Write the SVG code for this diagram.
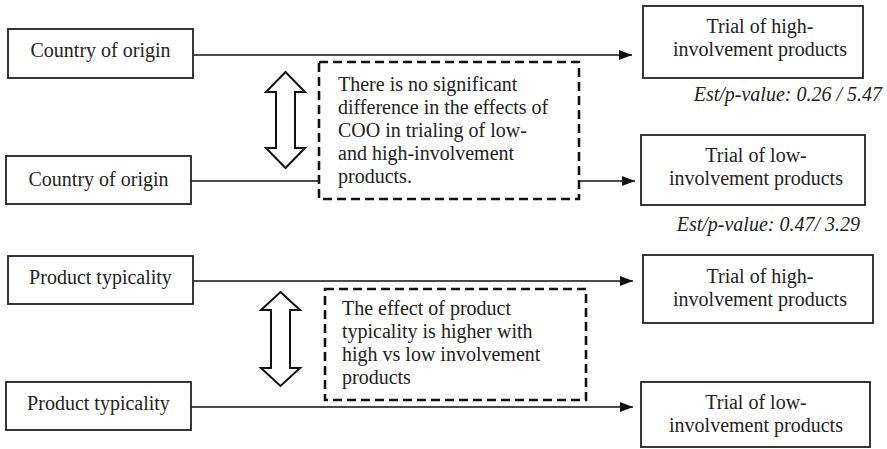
<svg xmlns="http://www.w3.org/2000/svg" width="887" height="449" viewBox="0 0 887 449">
<defs>
<marker id="ah" markerUnits="userSpaceOnUse" markerWidth="14" markerHeight="12" refX="13" refY="6" orient="auto">
<path d="M0,1 L13,6 L0,11 Z" fill="#111"/>
</marker>
<style>
.box{fill:#fff;stroke:#222;stroke-width:1.8}
.dash{fill:#fff;stroke:#111;stroke-width:2.6;stroke-dasharray:9 5}
.conn{stroke:#111;stroke-width:1.6;fill:none}
.dbl{fill:#fff;stroke:#111;stroke-width:2;stroke-linejoin:miter}
text{font-family:"Times New Roman",Times,"Liberation Serif",Tinos,"Noto Serif","DejaVu Serif",FreeSerif,serif;font-size:20px;fill:#222}
.c{text-anchor:middle}
.it{font-style:italic;text-anchor:end}
</style>
</defs>
<rect width="887" height="449" fill="#fff"/>
<g id="connectors">
<line class="conn" x1="193" y1="55" x2="632" y2="55" marker-end="url(#ah)"/>
<line class="conn" x1="191" y1="181" x2="635" y2="181" marker-end="url(#ah)"/>
<line class="conn" x1="193" y1="281" x2="633" y2="281" marker-end="url(#ah)"/>
<line class="conn" x1="191" y1="407" x2="633" y2="407" marker-end="url(#ah)"/>
</g>
<g id="coo1"><rect class="box" x="8" y="29" width="185" height="49"/><text class="c" x="100.5" y="57">Country of origin</text></g>
<g id="coo2"><rect class="box" x="6" y="156" width="185" height="48"/><text class="c" x="98.5" y="186">Country of origin</text></g>
<g id="pt1"><rect class="box" x="8" y="256" width="185" height="48"/><text class="c" x="100.5" y="284">Product typicality</text></g>
<g id="pt2"><rect class="box" x="6" y="382" width="185" height="48"/><text class="c" x="98.5" y="410">Product typicality</text></g>
<g id="high1"><rect class="box" x="643" y="6" width="220" height="72"/><text class="c" x="760" y="33">Trial of high-</text><text class="c" x="760" y="56">involvement products</text></g>
<g id="low1"><rect class="box" x="641" y="135" width="224" height="70"/><text class="c" x="756" y="162">Trial of low-</text><text class="c" x="756" y="185">involvement products</text></g>
<g id="high2"><rect class="box" x="643" y="255" width="230" height="68"/><text class="c" x="760" y="283">Trial of high-</text><text class="c" x="760" y="306">involvement products</text></g>
<g id="low2"><rect class="box" x="641" y="382" width="229" height="65"/><text class="c" x="756" y="409">Trial of low-</text><text class="c" x="756" y="432">involvement products</text></g>
<g id="est1"><text class="it" x="882" y="101">Est/p-value: 0.26 / 5.47</text></g>
<g id="est2"><text class="it" x="860" y="231">Est/p-value: 0.47/ 3.29</text></g>
<g id="note1"><rect class="dash" x="319" y="62" width="260" height="137"/>
<text x="338" y="91">There is no significant</text>
<text x="338" y="114">difference in the effects of</text>
<text x="338" y="137">COO in trialing of low-</text>
<text x="338" y="160">and high-involvement</text>
<text x="338" y="183">products.</text></g>
<g id="note2"><rect class="dash" x="325" y="289" width="261" height="111"/>
<text x="342" y="315">The effect of product</text>
<text x="342" y="338">typicality is higher with</text>
<text x="342" y="361">high vs low involvement</text>
<text x="342" y="384">products</text></g>
<g id="dbl1"><path class="dbl" d="M285.5,72 L305,92 L295,92 L295,148 L305,148 L285.5,168 L266,148 L276,148 L276,92 L266,92 Z"/></g>
<g id="dbl2"><path class="dbl" d="M280.5,292 L300,310 L290,310 L290,368 L300,368 L280.5,386 L261,368 L271,368 L271,310 L261,310 Z"/></g>
</svg>
